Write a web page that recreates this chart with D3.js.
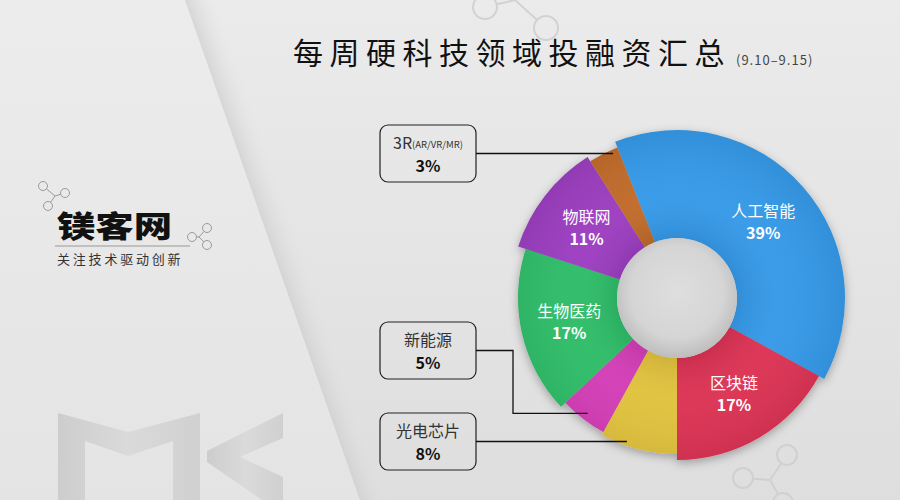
<!DOCTYPE html>
<html><head><meta charset="utf-8">
<script src="https://cdn.jsdelivr.net/npm/d3@7"></script>
<style>
html,body{margin:0;padding:0;background:#e5e5e5;}
svg{display:block;}
text{font-family:"Noto Sans CJK SC","Noto Sans",sans-serif;}
</style></head>
<body>
<svg id="chart" width="900" height="500"></svg>
<script>
// ---- data ----
const categories = ["人工智能", "区块链", "光电芯片", "新能源", "生物医药", "物联网", "3R"];
const categorySub = ["", "", "", "", "", "", "(AR/VR/MR)"];
const values = [39, 17, 8, 5, 17, 11, 3];
const title = "每周硬科技领域投融资汇总";
const dateRange = "(9.10–9.15)";
const brand = "镁客网";
const slogan = "关注技术驱动创新";

// ---- styles / layout (not data) ----
const colors = ["#3499e8", "#dc3052", "#e1c23c", "#d33cb6", "#2ebd67", "#9c3ec0", "#c06a2a"];
const outerRadii = [168, 162, 156, 153, 159, 167, 162];
const innerR = 60;
const cx = 677, cy = 298;
const startDeg = -21.6;
const insideLabels = [0, 1, 4, 5];
const callouts = [
  {i: 6, boxY: 125},
  {i: 3, boxY: 322, elbowX: 513},
  {i: 2, boxY: 413}
];
const boxX = 380, boxW = 96, boxH = 57;

const svg = d3.select("#chart");
const defs = svg.append("defs");

// background
const edgeGrad = defs.append("linearGradient").attr("id", "edge")
  .attr("gradientUnits", "userSpaceOnUse").attr("x1", 272).attr("y1", 250).attr("x2", 300).attr("y2", 240);
edgeGrad.append("stop").attr("offset", 0).attr("stop-color", "#d4d4d4");
edgeGrad.append("stop").attr("offset", 1).attr("stop-color", "#e4e4e4").attr("stop-opacity", 0);
const rightGrad = defs.append("linearGradient").attr("id", "rightbg").attr("x1", 0).attr("y1", 0).attr("x2", 0).attr("y2", 1);
rightGrad.append("stop").attr("offset", 0).attr("stop-color", "#ebebeb");
rightGrad.append("stop").attr("offset", 1).attr("stop-color", "#dedede");
const leftGrad = defs.append("linearGradient").attr("id", "leftbg").attr("x1", 0).attr("y1", 0).attr("x2", 0).attr("y2", 1);
leftGrad.append("stop").attr("offset", 0).attr("stop-color", "#ececec");
leftGrad.append("stop").attr("offset", 1).attr("stop-color", "#e4e4e4");

svg.append("rect").attr("width", 900).attr("height", 500).attr("fill", "url(#rightbg)");
svg.append("path").attr("d", "M0,0L185,0L360,500L0,500Z").attr("fill", "url(#leftbg)");
svg.append("path").attr("d", "M185,0L225,0L400,500L360,500Z").attr("fill", "url(#edge)");

// MK watermark
const mkGrad = defs.append("linearGradient").attr("id", "mk").attr("x1", 0).attr("y1", 0).attr("x2", 1).attr("y2", 0);
mkGrad.append("stop").attr("offset", 0).attr("stop-color", "#cdcdcd");
mkGrad.append("stop").attr("offset", 0.5).attr("stop-color", "#dadada");
mkGrad.append("stop").attr("offset", 1).attr("stop-color", "#d0d0d0");
svg.append("path").attr("fill", "url(#mk)")
  .attr("d", "M58,413L128,432L200,413L200,500L173,500L173,441L128,456L85,441L85,500L58,500Z");
svg.append("path").attr("fill", "url(#mk)")
  .attr("d", "M283,413L283,438L240,457L283,477L283,500L262,500L207,462L207,451Z");

// molecule decorations
function molecule(nodes, hub, r, color, w) {
  const g = svg.append("g").attr("fill", "none").attr("stroke", color).attr("stroke-width", w);
  nodes.forEach(n => {
    const dx = n[0] - hub[0], dy = n[1] - hub[1], d = Math.hypot(dx, dy);
    g.append("line").attr("x1", hub[0]).attr("y1", hub[1])
      .attr("x2", n[0] - dx / d * r).attr("y2", n[1] - dy / d * r);
    g.append("circle").attr("cx", n[0]).attr("cy", n[1]).attr("r", r);
  });
}
molecule([[43, 186], [65, 193], [48, 206]], [55, 196], 4.5, "#9a9a9a", 1);
molecule([[192, 237], [207, 228], [207, 245]], [199, 237], 4.5, "#9a9a9a", 1);
molecule([[485, 7], [546, 28]], [515, 0], 12, "#d2d2d2", 2);
molecule([[787, 455], [743, 478], [783, 503]], [770, 480], 10, "#d0d0d0", 2);

// brand
svg.append("text").attr("x", 57).attr("y", 237)
  .attr("transform", "translate(57,0) scale(1.28,1) translate(-57,0)")
  .attr("font-size", 30).attr("font-weight", 900).attr("fill", "#111")
  .attr("letter-spacing", 0).text(brand);
svg.append("line").attr("x1", 55).attr("x2", 190).attr("y1", 246).attr("y2", 246)
  .attr("stroke", "#999").attr("stroke-width", 1);
svg.append("text").attr("x", 57).attr("y", 264).attr("font-size", 13).attr("fill", "#333")
  .attr("letter-spacing", 2.8).text(slogan);

// title
svg.append("text").attr("x", 293).attr("y", 64).attr("font-size", 30).attr("fill", "#111")
  .attr("letter-spacing", 6.5).text(title);
svg.append("text").attr("x", 736).attr("y", 65).attr("font-size", 13).attr("fill", "#444")
  .attr("letter-spacing", 1).attr("font-family", "DejaVu Sans, sans-serif").text(dateRange);

// donut
const shadow = defs.append("filter").attr("id", "shadow").attr("x", "-20%").attr("y", "-20%").attr("width", "140%").attr("height", "140%");
shadow.append("feDropShadow").attr("dx", 0).attr("dy", 3).attr("stdDeviation", 5)
  .attr("flood-color", "#000").attr("flood-opacity", 0.3);

const pie = d3.pie().sort(null).value(d => d)
  .startAngle(startDeg * Math.PI / 180).endAngle((startDeg + 360) * Math.PI / 180);
const arcs = pie(values);
const arc = d3.arc().innerRadius(innerR).outerRadius(d => outerRadii[d.index]);

const gd = svg.append("g").attr("transform", `translate(${cx},${cy})`);
gd.append("g").attr("filter", "url(#shadow)")
  .selectAll("path").data(arcs).join("path")
  .attr("d", d => arc(d)).attr("fill", d => colors[d.index]);

// subtle shading overlay on slices
const shade = defs.append("radialGradient").attr("id", "shade").attr("gradientUnits", "userSpaceOnUse")
  .attr("cx", 0).attr("cy", 0).attr("r", 170);
shade.append("stop").attr("offset", 0.35).attr("stop-color", "#000").attr("stop-opacity", 0.08);
shade.append("stop").attr("offset", 0.6).attr("stop-color", "#fff").attr("stop-opacity", 0.03);
shade.append("stop").attr("offset", 1).attr("stop-color", "#000").attr("stop-opacity", 0.07);
gd.append("g").selectAll("path").data(arcs).join("path")
  .attr("d", d => arc(d)).attr("fill", "url(#shade)");

// hole
const hole = defs.append("radialGradient").attr("id", "hole").attr("cx", 0.5).attr("cy", 0.45).attr("r", 0.55);
hole.append("stop").attr("offset", 0).attr("stop-color", "#dedede");
hole.append("stop").attr("offset", 0.7).attr("stop-color", "#d5d5d5");
hole.append("stop").attr("offset", 1).attr("stop-color", "#bdbdbd");
gd.append("circle").attr("r", innerR).attr("fill", "url(#hole)");

// inside labels
insideLabels.forEach(i => {
  const a = arcs[i];
  const r = (innerR + outerRadii[i]) / 2 + 1;
  const la = d3.arc().innerRadius(r).outerRadius(r);
  const [x, y] = la.centroid(a);
  gd.append("text").attr("x", x).attr("y", y - 5).attr("text-anchor", "middle")
    .attr("font-size", 16).attr("fill", "#fff").text(categories[i]);
  gd.append("text").attr("x", x).attr("y", y + 17).attr("text-anchor", "middle")
    .attr("font-size", 16).attr("font-weight", "bold").attr("fill", "#fff")
    .attr("font-family", "DejaVu Sans, sans-serif").text(values[i] + "%");
});

// callouts
callouts.forEach(c => {
  const i = c.i, a = arcs[i];
  const by = c.boxY, midY = by + boxH / 2;
  svg.append("rect").attr("x", boxX).attr("y", by).attr("width", boxW).attr("height", boxH)
    .attr("rx", 8).attr("fill", "none").attr("stroke", "#222").attr("stroke-width", 1.2);
  const t = svg.append("text").attr("x", boxX + boxW / 2).attr("y", by + 24).attr("text-anchor", "middle")
    .attr("fill", "#333");
  t.append("tspan").attr("font-size", 16).text(categories[i]);
  if (categorySub[i]) t.append("tspan").attr("font-size", 9.5).attr("dy", -1).text(categorySub[i]);
  svg.append("text").attr("x", boxX + boxW / 2).attr("y", by + 47).attr("text-anchor", "middle")
    .attr("font-size", 16).attr("font-weight", "bold").attr("fill", "#111")
    .attr("font-family", "DejaVu Sans, sans-serif").text(values[i] + "%");
  let pts;
  if (c.elbowX) {
    const mid = (a.startAngle + a.endAngle) / 2, r = outerRadii[i] - 7;
    const ex = cx + r * Math.sin(mid), ey = cy - r * Math.cos(mid);
    pts = [[boxX + boxW, midY], [c.elbowX, midY], [c.elbowX, ey], [ex, ey]];
  } else {
    const r = outerRadii[i] - 4, dy = midY - cy;
    const ex = cx - Math.sqrt(r * r - dy * dy);
    pts = [[boxX + boxW, midY], [ex, midY]];
  }
  svg.append("path").attr("d", d3.line()(pts)).attr("fill", "none")
    .attr("stroke", "#111").attr("stroke-width", 1.3);
});
</script>
</body></html>
